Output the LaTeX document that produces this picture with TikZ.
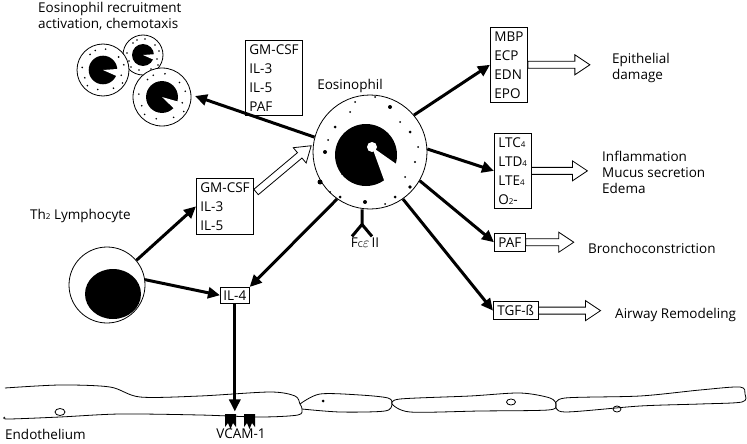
\documentclass[tikz,border=0pt]{standalone}
\usepackage{fontspec}
\setmainfont{Open Sans}
\usetikzlibrary{arrows.meta,positioning}
\begin{document}
\begin{tikzpicture}[
  x=1pt, y=-1pt,
  every node/.style={font=\fontsize{13.5}{19}\selectfont, inner sep=0pt},
  every text node part/.style={align=left},
  box/.style={draw, thick, inner sep=4pt, anchor=north west},
  push/.style={-{Triangle[length=12pt,width=11pt]}, line width=3pt},
  cell/.style={draw, thick, fill=white},
  pics/hollow/.style={code={
    \draw[thick, fill=white] (0,-3.5) -- (#1-15,-3.5) -- (#1-15,-10) -- (#1,0)
      -- (#1-15,10) -- (#1-15,3.5) -- (0,3.5) -- cycle;}},
]
\useasboundingbox (0,0) rectangle (747,444);
%general params
\def\eosr{57} %eosinophil radius

%texts
\node[anchor=north west] (recruit) at (38,2) {Eosinophil recruitment\\[-3pt]activation, chemotaxis};
\node (eoslabel) at (350,86) {Eosinophil};
\node[anchor=west] (thlabel) at (30,216) {Th{\footnotesize 2} Lymphocyte};

%small cells
\foreach \cx/\cy/\r/\a in {143/55/20/10, 103/70/26/10, 162/97/29/30}{
  \draw[cell] (\cx,\cy) circle (\r);
  \foreach \dx/\dy in {.7/.2,.6/-.5,-.2/.75,-.7/.3,-.5/-.6,.1/-.8,.75/.5,-.8/-.1,.4/.7,-.3/-.75,.8/-.2,-.6/.6}
    \fill (\cx+\dx*\r,\cy+\dy*\r) circle (.9);
  \fill (\cx,\cy) circle (\r*.55);
  \fill[white] (\cx,\cy) -- ++(\a-14:\r*.6) arc (\a-14:\a+14:\r*.6) -- cycle;
}
\coordinate (cellsin) at (195,96);

%eosinophil
\node[cell, circle, minimum size=2*\eosr pt] (eos) at (370,152) {};
\fill (366,155) circle (31);
\fill[white] (372,147) -- ++(35:40) arc (35:70:40) -- cycle;
\fill[white] (372,147) circle (5);
\foreach \dx/\dy/\s in {-45/0/2, -35/-25/1.5, -50/30/2.5, -15/-50/1, 20/-45/2, 5/-55/1,
  40/-20/1.5, 45/10/1.2, 40/35/1.8, 25/45/1.5, -5/50/2, -30/45/1.5, -42/-12/1,
  -28/22/1, 30/-30/1, 48/-5/1, -20/-40/1, 15/52/1, -40/40/1, 35/25/1}
  \fill (370+\dx,152+\dy) circle (\s);
\draw[line width=3pt] (eos.south) ++(-8,0) -- ++(0,15) coordinate (fy) -- ++(-10,12);
\draw[line width=3pt] (fy) -- ++(10,12);
\node (fcr) at (365,243) {F{\footnotesize C}$\varepsilon$\,II};

%boxes
\node[box] (gm1) at (245,40) {GM-CSF\\IL-3\\IL-5\\PAF};
\node[box] (gm2) at (196,178) {GM-CSF\\IL-3\\IL-5};
\node[box, inner sep=3pt] (il4) at (220,287) {IL-4};
\node[box] (mbp) at (490,27) {MBP\\ECP\\EDN\\EPO};
\node[box] (ltc) at (494,133) {LTC{\footnotesize 4}\\LTD{\footnotesize 4}\\LTE{\footnotesize 4}\\O{\footnotesize 2}-};
\node[box] (paf) at (494,233) {PAF};
\node[box] (tgf) at (493,301) {TGF-ß};

%outcomes
\node[anchor=west] (epi) at (612,68) {Epithelial\\[-3pt]damage};
\node[anchor=west] (infl) at (602,172) {Inflammation\\[-3pt]Mucus secretion\\[-3pt]Edema};
\node[anchor=west] (broncho) at (588,248) {Bronchoconstriction};
\node[anchor=west] (remod) at (615,315) {Airway Remodeling};

%Th2 lymphocyte
\node[cell, circle, minimum size=76pt] (th) at (107,285) {};
\fill (113,294) ellipse (28 and 25);

%arrows
\draw[push] (eos.165) -- (cellsin);
\draw[push] (eos.40) -- (mbp.west);
\draw[push] (eos.3) -- (ltc.west);
\draw[push] (eos.-30) -- (paf.west);
\draw[push] (eos.-55) -- (tgf.west);
\draw[push] (eos.-125) -- (il4.north east);
\draw[push] (th.40) -- (gm2.west);
\draw[push] (th.8) -- (il4.west);
\draw[push] (il4.south) -- ++(0,108) coordinate (vcamtop);

%hollow arrows
\pic at (mbp.east) {hollow=62};
\pic at (ltc.east) {hollow=56};
\pic at (paf.east) {hollow=48};
\pic at (tgf.east) {hollow=62};
\pic[rotate=40] at ([yshift=-14pt,xshift=2pt]gm2.north east) {hollow=72};

%endothelium
\draw[thick] plot[smooth] coordinates {(5,388) (60,385) (110,387) (140,397) (200,396) (270,392) (295,396) (300,404) (302,409) (298,415) (260,417) (200,415) (120,414) (60,417) (8,419) (5,417)};
\draw[thick] plot[smooth] coordinates {(300,404) (320,394) (360,395) (388,398) (392,404) (385,411) (340,412) (302,409)};
\draw[thick] plot[smooth] coordinates {(392,404) (400,399) (470,396) (520,393) (550,398) (556,405) (548,410) (480,411) (410,412) (392,404)};
\draw[thick] plot[smooth] coordinates {(556,405) (565,398) (640,396) (700,390) (740,387) (745,394) (742,402) (700,404) (640,406) (565,412) (556,405)};
\draw[thick] (60,412) ellipse (5 and 3.5);
\fill (323,401) circle (1.5);
\draw[thick] (511,402) ellipse (4.5 and 3);
\draw[thick] (617,409) ellipse (4 and 3);

%VCAM-1
\foreach \vx in {225,244}
  \fill (\vx,414) -- (\vx+11,414) -- (\vx+11,427) -- (\vx+8,423) -- (\vx+5.5,429) -- (\vx+3,423) -- (\vx,427) -- cycle;
\node (vcam) at (241,434) {VCAM-1};
\node[anchor=west] (endo) at (5,434) {Endothelium};
\end{tikzpicture}
\end{document}
